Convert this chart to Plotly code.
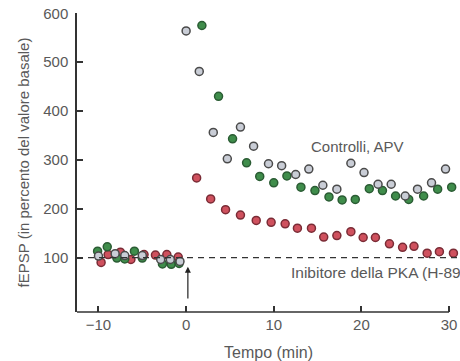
import plotly.graph_objects as go

# Controlli (grigio)
ctrl_x = [-10.0, -8.1, -7.0, -5.0, -2.9, -1.8, -0.7, 0.0, 1.5, 3.1, 4.7, 6.2, 7.7, 9.4, 10.9,
          12.5, 14.0, 15.6, 17.2, 18.8, 20.3, 21.9, 23.4, 25.0, 26.4, 28.0, 29.6]
ctrl_y = [103, 108, 104, 104, 96, 96, 92, 564, 481, 356, 302, 367, 328, 292, 288,
          270, 281, 248, 240, 293, 274, 250, 250, 226, 240, 253, 281]

# APV (verde)
apv_x = [-10.1, -9.0, -7.9, -7.0, -5.9, -5.0, -2.7, -1.7, -0.8, 1.8, 3.7, 5.3, 6.9, 8.4, 10.0,
         11.5, 13.1, 14.7, 16.3, 17.8, 19.3, 20.9, 22.4, 23.9, 25.4, 27.1, 28.7, 30.3]
apv_y = [113, 122, 99, 97, 113, 99, 87, 86, 88, 575, 430, 343, 294, 266, 253,
         267, 244, 237, 224, 218, 219, 241, 237, 226, 219, 226, 240, 244]

# Inibitore della PKA (rosso)
pka_x = [-9.7, -8.9, -7.5, -6.3, -4.8, -3.5, -2.2, -0.9, 1.2, 2.8, 4.5, 6.2, 8.0, 9.7, 11.3,
         12.7, 14.3, 15.7, 17.2, 18.8, 20.2, 21.6, 23.2, 24.7, 26.0, 27.5, 28.9, 30.5]
pka_y = [90, 106, 111, 96, 106, 105, 106, 101, 263, 220, 198, 187, 176, 172, 169,
         160, 160, 142, 145, 153, 141, 141, 128, 121, 123, 109, 112, 109]

x_ticks = [-10, 0, 10, 20, 30]
x_labels = ['\u221210', '0', '10', '20', '30']
y_ticks = [100, 200, 300, 400, 500, 600]

FONT = 'Liberation Sans, Arial, sans-serif'
TXT = '#595959'

fig = go.Figure()

def add_series(x, y, fill, edge):
    fig.add_trace(go.Scatter(
        x=x, y=y, mode='markers', cliponaxis=False, showlegend=False,
        marker=dict(size=8, color=fill, line=dict(color=edge, width=1.5))))

add_series(pka_x, pka_y, '#cf515e', '#7a2c36')
add_series(apv_x, apv_y, '#3f8d4b', '#2b5c34')
add_series(ctrl_x, ctrl_y, '#c9cdd6', '#4a4a4a')

# linea di base al 100%
fig.add_shape(type='line', xref='paper', x0=0, x1=1, yref='y', y0=100, y1=100,
              line=dict(color='#333333', width=1.2, dash='6px,5px'))
# asse x (si ferma a 30)
fig.add_shape(type='line', xref='x', x0=-12.45, x1=30, yref='paper', y0=0, y1=0,
              line=dict(color='#333333', width=1.5))

# freccia allo stimolo
fig.add_annotation(x=0.2, y=81, ax=0.2, ay=13, axref='x', ayref='y', text='',
                   showarrow=True, arrowhead=2, arrowsize=1, arrowwidth=1.2,
                   arrowcolor='#222222')

fig.add_annotation(x=19.5, y=327, text='Controlli, APV', showarrow=False,
                   font=dict(family=FONT, size=15, color=TXT))
fig.add_annotation(x=11.7, y=69, text='Inibitore della PKA (H-89)', showarrow=False,
                   xanchor='left', font=dict(family=FONT, size=15.5, color=TXT))

fig.update_layout(
    width=460, height=361,
    margin=dict(l=77, r=0, t=13, b=49),
    paper_bgcolor='white', plot_bgcolor='white',
    font=dict(family=FONT, size=15, color=TXT),
    xaxis=dict(range=[-12.45, 31.25], showline=False, showgrid=False, zeroline=False,
               tickvals=x_ticks, ticktext=x_labels, ticks='inside', ticklen=6,
               tickwidth=1.5, tickcolor='#333333', ticklabelstandoff=2,
               ticklabeloverflow='allow',
               title=dict(text='Tempo (min)', standoff=14, font=dict(size=16))),
    yaxis=dict(range=[-11.5, 600.6], showline=True, linecolor='#333333', linewidth=1.5,
               showgrid=False, zeroline=False, tickvals=y_ticks, ticks='inside',
               ticklen=6, tickwidth=1.5, tickcolor='#333333', ticklabelstandoff=4,
               ticklabeloverflow='allow',
               title=dict(text='fEPSP (in percento del valore basale)', standoff=10,
                          font=dict(size=15))),
)

# niente margine della pagina: il grafico occupa tutta la finestra
fig.write_html('out.html', config={'displayModeBar': False},
               post_script="document.body.style.margin='0';"
                           "document.body.style.overflow='hidden';")
